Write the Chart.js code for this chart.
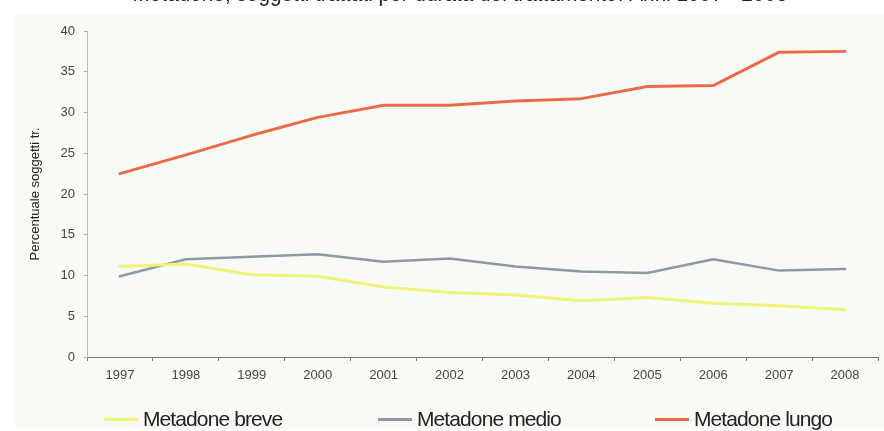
<!DOCTYPE html>
<html>
<head>
<meta charset="utf-8">
<script src="https://cdn.jsdelivr.net/npm/chart.js@4/dist/chart.umd.min.js"></script>
<style>
  html, body { margin: 0; padding: 0; background: #ffffff; }
  #wrap { position: relative; width: 884px; height: 431px; overflow: hidden; }
  #bg { position: absolute; left: 15px; top: 14px; width: 869px; height: 415px; background: #f8fbf5; }
  canvas { position: absolute; left: 0; top: 0; }
  .leg { position: absolute; top: 407px; height: 24px; display: flex; align-items: center;
         font-family: "Liberation Sans", Arial, sans-serif; font-size: 21px; color: #222;
         letter-spacing: -0.9px; white-space: nowrap; }
  .leg i { display: inline-block; width: 34px; height: 3px; margin-right: 5px; }
</style>
</head>
<body>
<div id="wrap">
  <div id="bg"></div>
  <canvas id="c" width="884" height="431"></canvas>
  <div class="leg" style="left:104px"><i style="background:#f2f27a"></i>Metadone breve</div>
  <div class="leg" style="left:378px"><i style="background:#8d9aa6"></i>Metadone medio</div>
  <div class="leg" style="left:655px"><i style="background:#ea6b48"></i>Metadone lungo</div>
</div>
<script>
const years = ['1997','1998','1999','2000','2001','2002','2003','2004','2005','2006','2007','2008'];
const metadoneBreve = [11.1, 11.4, 10.1, 9.9, 8.6, 7.9, 7.6, 6.9, 7.3, 6.6, 6.3, 5.8];
const metadoneMedio = [9.9, 12.0, 12.3, 12.6, 11.7, 12.1, 11.1, 10.5, 10.3, 12.0, 10.6, 10.8];
const metadoneLungo = [22.5, 24.8, 27.2, 29.4, 30.9, 30.9, 31.4, 31.7, 33.2, 33.3, 37.4, 37.5];
const yTicks = [0, 5, 10, 15, 20, 25, 30, 35, 40];
const chartTitle = 'Metadone, soggetti trattati per durata del trattamento. Anni 1997 - 2008';
const yTitle = 'Percentuale soggetti tr.';

// Heading sits mostly above the top edge of the canvas
const headingPlugin = {
  id: 'heading',
  afterDraw(chart) {
    const ctx = chart.ctx;
    ctx.save();
    ctx.fillStyle = '#222';
    ctx.font = '22px "Liberation Sans", Arial, sans-serif';
    ctx.textAlign = 'center';
    ctx.textBaseline = 'alphabetic';
    ctx.fillText(chartTitle, 460, 1, 655);
    ctx.restore();
  }
};

const tickFont = { family: '"Liberation Sans", Arial, sans-serif', size: 13 };

new Chart(document.getElementById('c'), {
  type: 'line',
  data: {
    labels: years,
    datasets: [
      { label: 'Metadone breve', data: metadoneBreve, borderColor: '#f2f27a', borderWidth: 3 },
      { label: 'Metadone medio', data: metadoneMedio, borderColor: '#8d9aa6', borderWidth: 2.5 },
      { label: 'Metadone lungo', data: metadoneLungo, borderColor: '#ea6b48', borderWidth: 3 }
    ]
  },
  options: {
    responsive: false,
    animation: false,
    devicePixelRatio: 1,
    layout: { padding: { top: 31, right: 6, left: 0, bottom: 0 } },
    elements: { point: { radius: 0 }, line: { tension: 0, borderCapStyle: 'round', borderJoinStyle: 'round' } },
    plugins: { legend: { display: false }, tooltip: { enabled: false } },
    scales: {
      x: {
        type: 'category',
        offset: true,
        grid: { offset: true, drawOnChartArea: false, tickLength: 4, color: '#777' },
        border: { display: true, color: '#777', width: 1 },
        ticks: { font: tickFont, color: '#444', padding: 7, maxRotation: 0, autoSkip: false },
        afterFit(s) { s.height = 74; }
      },
      y: {
        min: 0, max: 40,
        afterBuildTicks(s) { s.ticks = yTicks.map(v => ({ value: v })); },
        grid: { drawOnChartArea: false, tickLength: 3, color: '#aaa' },
        border: { display: true, color: '#bbb', width: 1 },
        ticks: { font: tickFont, color: '#444', padding: 9 },
        title: { display: true, text: yTitle, color: '#222',
                 font: { family: '"Liberation Sans", Arial, sans-serif', size: 13 },
                 padding: { top: 28, bottom: 0 } },
        afterFit(s) { s.width = 87; }
      }
    }
  },
  plugins: [headingPlugin]
});
</script>
</body>
</html>
